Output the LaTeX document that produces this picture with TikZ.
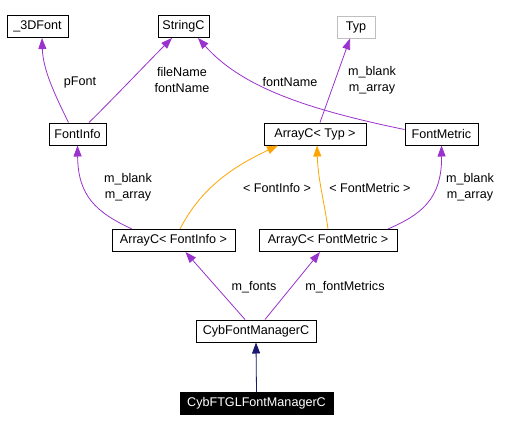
\documentclass[tikz,border=0pt]{standalone}
\usepackage{fontspec}
\setmainfont{Liberation Sans}
\usetikzlibrary{arrows.meta}
\definecolor{edgepurple}{HTML}{9A32CD}
\definecolor{edgeorange}{HTML}{FFA500}
\definecolor{edgenavy}{HTML}{191970}
\definecolor{boxgray}{HTML}{BFBFBF}
\begin{document}
\begin{tikzpicture}[x=1pt,y=-1pt,
  cls/.style={draw=black,line width=1pt,fill=white,inner sep=0pt,minimum height=22pt,font=\fontsize{12.6}{14}\selectfont},
  ext/.style={cls,draw=boxgray},
  cur/.style={cls,fill=black,text=white},
  lbl/.style={font=\fontsize{12.6}{16}\selectfont,align=center,inner sep=0pt},
  tip/.style={-{Triangle[length=11pt,width=8pt]}},
  use/.style={tip,draw=edgepurple,line width=0.8pt},
  tmpl/.style={tip,draw=edgeorange,line width=0.8pt},
  inh/.style={tip,draw=edgenavy,line width=0.8pt}
]
\useasboundingbox (0,0) rectangle (525,431);
\fill[white] (0,0) rectangle (525,431);
% nodes
\node[cls,minimum width=61pt] (3d) at (37.5,26.5) {\_3DFont};
\node[cls,minimum width=51pt] (str) at (183.5,26.5) {StringC};
\node[ext,minimum width=38pt,text=black] (typ) at (356,27) {Typ};
\node[cls,minimum width=57pt] (fi) at (77.5,134) {FontInfo};
\node[cls,minimum width=102pt] (at) at (315,134) {ArrayC< Typ >};
\node[cls,minimum width=73pt] (fm) at (441.5,134) {FontMetric};
\node[cls,minimum width=123pt] (afi) at (173.5,240.5) {ArrayC< FontInfo >};
\node[cls,minimum width=138pt] (afm) at (328,240.5) {ArrayC< FontMetric >};
\node[cls,minimum width=120pt] (cfm) at (256,331) {CybFontManagerC};
\node[cur,minimum width=153pt] (cftgl) at (256.5,403.5) {CybFTGLFontManagerC};
% edges
\draw[use] ([xshift=-9pt]fi.north) .. controls (55,95) and (43,70) .. ([xshift=4.5pt]3d.south);
\draw[use] ([xshift=11.5pt]fi.north) .. controls (112,100) and (150,60) .. ([xshift=-11.5pt]str.south);
\draw[use] ([yshift=-7pt]fm.north west) .. controls (300,108) and (240,85) .. ([xshift=14.5pt]str.south);
\draw[use] ([xshift=5pt]at.north) -- ([xshift=-6pt]typ.south);
\draw[use] ([xshift=-41.5pt]afi.north) .. controls (95,212) and (78,195) .. (fi.south);
\draw[tmpl] ([xshift=6.5pt]afi.north) .. controls (200,190) and (230,168) .. ([xshift=-37pt]at.south);
\draw[tmpl] (afm.north) .. controls (324,200) and (318,180) .. ([xshift=2pt]at.south);
\draw[use] ([xshift=60pt]afm.north) .. controls (420,215) and (442,200) .. (fm.south);
\draw[use] ([xshift=-11pt]cfm.north) -- ([xshift=12pt]afi.south);
\draw[use] ([xshift=9pt]cfm.north) -- ([xshift=-8pt]afm.south);
\draw[inh] (cftgl.north) -- (cfm.south);
% labels
\node[lbl] (l1) at (80,82) {pFont};
\node[lbl] (l2) at (182,80) {fileName\\fontName};
\node[lbl] (l3) at (290,82) {fontName};
\node[lbl] (l4) at (372,80) {m\_blank\\m\_array};
\node[lbl] (l5) at (128,187) {m\_blank\\m\_array};
\node[lbl] (l6) at (277,188) {< FontInfo >};
\node[lbl] (l7) at (370,188) {< FontMetric >};
\node[lbl] (l8) at (470,187) {m\_blank\\m\_array};
\node[lbl] (l9) at (254,287) {m\_fonts};
\node[lbl] (l10) at (345,287) {m\_fontMetrics};
\end{tikzpicture}
\end{document}
